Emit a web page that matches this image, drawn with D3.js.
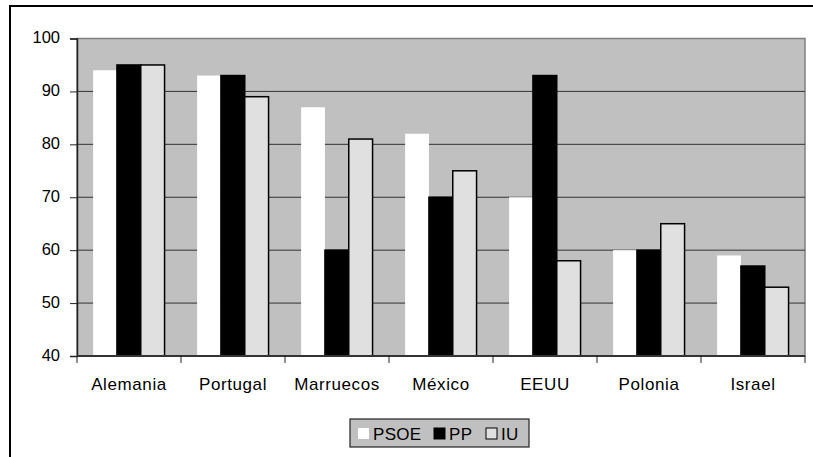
<!DOCTYPE html>
<html>
<head>
<meta charset="utf-8">
<script src="https://cdn.jsdelivr.net/npm/d3@7"></script>
<style>
body { margin: 0; background: #fff; }
text { font-family: "Liberation Sans", Arial, sans-serif; }
</style>
</head>
<body>
<script>
// chart data
var countries = ["Alemania", "Portugal", "Marruecos", "México", "EEUU", "Polonia", "Israel"];
var parties = ["PSOE", "PP", "IU"];
var psoe = [94, 93, 87, 82, 70, 60, 59];
var pp = [95, 93, 60, 70, 93, 60, 57];
var iu = [95, 89, 81, 75, 58, 65, 53];
var yTicks = [40, 50, 60, 70, 80, 90, 100];

var series = [psoe, pp, iu];
var fills = ["#ffffff", "#000000", "#e0e0e0"];
var strokes = ["none", "#000", "#000"];

var w = 813, h = 457;
var plotL = 77, plotR = 805, plotT = 38.5, plotB = 356;

var svg = d3.select("body").append("svg")
    .attr("width", w)
    .attr("height", h);

// outer chart frame (runs past the right and bottom edges)
svg.append("rect")
    .attr("x", 10).attr("y", 6)
    .attr("width", 840).attr("height", 500)
    .attr("fill", "#fff")
    .attr("stroke", "#000")
    .attr("stroke-width", 2);

var x = d3.scaleBand()
    .domain(countries)
    .range([plotL, plotR]);

var y = d3.scaleLinear()
    .domain([40, 100])
    .range([plotB, plotT]);

// plot background
svg.append("rect")
    .attr("x", plotL).attr("y", plotT)
    .attr("width", plotR - plotL).attr("height", plotB - plotT)
    .attr("fill", "#c0c0c0")
    .attr("stroke", "#808080")
    .attr("stroke-width", 1.5);

// gridlines
svg.selectAll(".grid")
    .data(yTicks.filter(function (d) { return d > 40 && d < 100; }))
    .enter().append("line")
    .attr("class", "grid")
    .attr("x1", plotL).attr("x2", plotR)
    .attr("y1", function (d) { return y(d); })
    .attr("y2", function (d) { return y(d); })
    .attr("stroke", "#333")
    .attr("stroke-width", 1);

// bars
var bw = x.bandwidth();
var barW = bw * 0.229;
var groupStart = bw * 0.155;
series.forEach(function (vals, s) {
    svg.selectAll(".bar" + s)
        .data(vals)
        .enter().append("rect")
        .attr("class", "bar" + s)
        .attr("x", function (d, i) { return x(countries[i]) + groupStart + s * barW; })
        .attr("y", function (d) { return y(d); })
        .attr("width", barW)
        .attr("height", function (d) { return y(40) - y(d); })
        .attr("fill", fills[s])
        .attr("stroke", strokes[s])
        .attr("stroke-width", 1.5);
});

// y axis
var yAxis = d3.axisLeft(y).tickValues(yTicks).tickSize(7).tickPadding(10);
var ya = svg.append("g")
    .attr("transform", "translate(" + plotL + ",0)")
    .call(yAxis);
ya.select(".domain").attr("stroke", "#222").attr("stroke-width", 1.5);
ya.selectAll(".tick line").attr("stroke", "#222");
ya.selectAll("text")
    .attr("font-size", 16.5)
    .attr("dy", "0.25em")
    .attr("fill", "#000")
    .style("font-family", "'Liberation Sans', Arial, sans-serif");

// x axis
var xa = svg.append("g")
    .attr("transform", "translate(0," + plotB + ")");
xa.append("line")
    .attr("x1", plotL).attr("x2", plotR)
    .attr("y1", 0).attr("y2", 0)
    .attr("stroke", "#333").attr("stroke-width", 2);
xa.selectAll(".xtick")
    .data(countries.concat(["end"]))
    .enter().append("line")
    .attr("x1", function (d, i) { return plotL + i * bw; })
    .attr("x2", function (d, i) { return plotL + i * bw; })
    .attr("y1", 0).attr("y2", 7)
    .attr("stroke", "#222");
xa.selectAll(".xlabel")
    .data(countries)
    .enter().append("text")
    .attr("x", function (d) { return x(d) + bw / 2; })
    .attr("y", 34)
    .attr("text-anchor", "middle")
    .attr("font-size", 17)
    .attr("letter-spacing", 0.6)
    .text(function (d) { return d; });

// legend
var lg = svg.append("g").attr("transform", "translate(350,419)");
lg.append("rect")
    .attr("width", 179).attr("height", 28)
    .attr("fill", "#c0c0c0")
    .attr("stroke", "#222")
    .attr("stroke-width", 1.2);
var lx = [8, 84, 136];
parties.forEach(function (p, i) {
    lg.append("rect")
        .attr("x", lx[i]).attr("y", 9)
        .attr("width", 11).attr("height", 11)
        .attr("fill", fills[i])
        .attr("stroke", strokes[i]);
    lg.append("text")
        .attr("x", lx[i] + 15).attr("y", 20.5)
        .attr("font-size", 17)
        .attr("letter-spacing", 0.3)
        .text(p);
});
</script>
</body>
</html>
